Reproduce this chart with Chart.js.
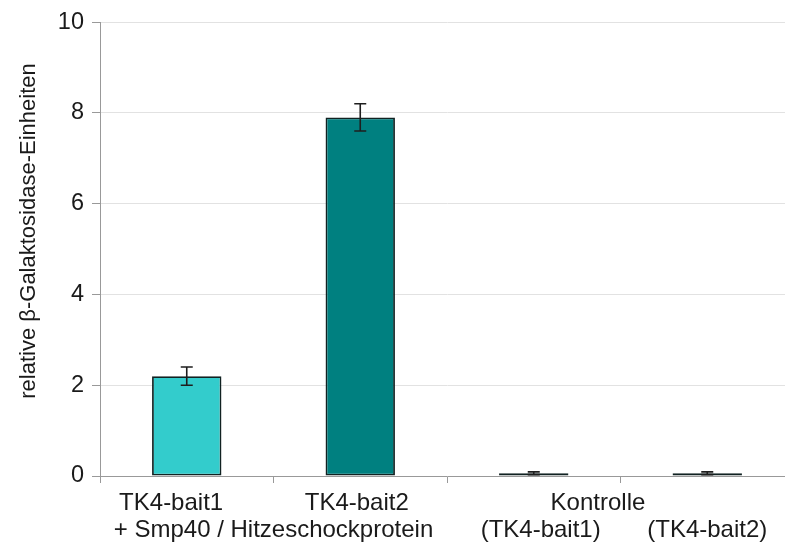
<!DOCTYPE html>
<html>
<head>
<meta charset="utf-8">
<script src="https://cdn.jsdelivr.net/npm/chart.js@4/dist/chart.umd.min.js"></script>
<style>
  html, body { margin: 0; padding: 0; background: #fff; overflow: hidden; }
  #wrap { width: 794px; height: 544px; }
</style>
</head>
<body>
<div id="wrap"><canvas id="c" width="794" height="544"></canvas></div>
<script>
// Assay groups and measured activity
const categories = ['TK4-bait1', 'TK4-bait2', 'Kontrolle (TK4-bait1)', 'Kontrolle (TK4-bait2)'];
const values = [2.2, 7.9, 0.06, 0.06];
const errors = [0.2, 0.3, 0.03, 0.03];
const barColors = ['#33CCCC', '#008080', '#33CCCC', '#008080'];
const yTicks = [0, 2, 4, 6, 8, 10];
const yTitle = 'relative \u03B2-Galaktosidase-Einheiten';

// Category axis text: [text, category index, shift in category widths, line]
const xLabelLines = [
  ['TK4-bait1', 0, -0.09, 0],
  ['TK4-bait2', 1, -0.02, 0],
  ['+ Smp40 / Hitzeschockprotein', 0, 0.5, 1],
  ['Kontrolle', 2, 0.37, 0],
  ['(TK4-bait1)', 2, 0.04, 1],
  ['(TK4-bait2)', 3, 0.0, 1]
];

const FONT = '"Liberation Sans", Arial, sans-serif';

const errorBars = {
  id: 'errorBars',
  afterDatasetsDraw(chart) {
    const ctx = chart.ctx;
    const y = chart.scales.y;
    const meta = chart.getDatasetMeta(0);
    ctx.save();
    ctx.strokeStyle = '#1e1e1e';
    ctx.lineWidth = 1.6;
    meta.data.forEach((bar, i) => {
      const x = bar.x;
      const top = y.getPixelForValue(values[i] + errors[i]);
      const bot = y.getPixelForValue(values[i] - errors[i]);
      ctx.beginPath();
      ctx.moveTo(x, top); ctx.lineTo(x, bot);
      ctx.moveTo(x - 6, top); ctx.lineTo(x + 6, top);
      ctx.moveTo(x - 6, bot); ctx.lineTo(x + 6, bot);
      ctx.stroke();
    });
    ctx.restore();
  }
};

const axisText = {
  id: 'axisText',
  afterDraw(chart) {
    const ctx = chart.ctx;
    const xs = chart.scales.x;
    const area = chart.chartArea;
    const step = xs.getPixelForValue(1) - xs.getPixelForValue(0);
    ctx.save();
    ctx.fillStyle = '#1a1a1a';
    ctx.font = '24px ' + FONT;
    ctx.textAlign = 'center';
    ctx.textBaseline = 'middle';
    xLabelLines.forEach(([text, idx, shift, line]) => {
      const px = xs.getPixelForValue(idx) + shift * step;
      ctx.fillText(text, px, area.bottom + 27 + line * 27);
    });
    // rotated axis title
    ctx.font = '22px ' + FONT;
    ctx.translate(29, 231);
    ctx.rotate(-Math.PI / 2);
    ctx.fillText(yTitle, 0, 0);
    ctx.restore();
  }
};

new Chart(document.getElementById('c'), {
  type: 'bar',
  data: {
    labels: categories,
    datasets: [{
      data: values,
      backgroundColor: barColors,
      borderColor: '#112222',
      borderWidth: 1.8,
      borderSkipped: false,
      categoryPercentage: 1.0,
      barPercentage: 0.4
    }]
  },
  options: {
    responsive: false,
    animation: false,
    layout: { padding: { top: 22, left: 0, right: 0, bottom: 0 } },
    plugins: { legend: { display: false }, tooltip: { enabled: false }, title: { display: false } },
    scales: {
      x: {
        offset: true,
        grid: { display: true, drawOnChartArea: false, drawTicks: true, tickLength: 7, color: '#999', offset: true },
        border: { display: true, color: '#999', width: 1 },
        ticks: { callback: () => '' },
        afterFit(s) { s.height = 68; }
      },
      y: {
        min: 0,
        max: 10,
        afterBuildTicks(s) { s.ticks = yTicks.map(v => ({ value: v })); },
        grid: { color: '#e2e2e2', tickColor: '#999', tickLength: 8, drawTicks: true },
        border: { display: true, color: '#999', width: 1 },
        ticks: {
          padding: 8,
          color: '#1a1a1a',
          font: { family: FONT, size: 23.5 }
        },
        afterFit(s) { s.width = 100; }
      }
    }
  },
  plugins: [errorBars, axisText]
});
</script>
</body>
</html>
